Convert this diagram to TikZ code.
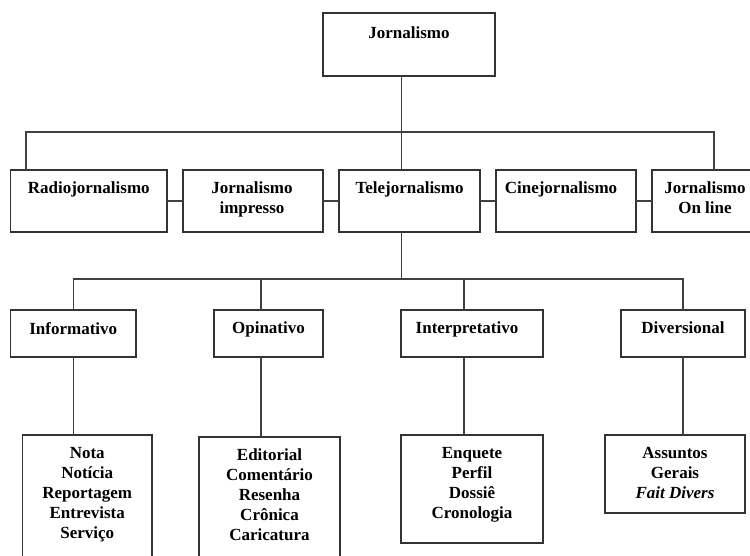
\documentclass[tikz,border=0pt]{standalone}
\usepackage{fontspec}
\setmainfont{Liberation Serif}
\begin{document}
\begin{tikzpicture}[x=1pt,y=-1pt,
  box/.style={draw=black!80,line width=1.3pt,fill=white,inner sep=0pt,outer sep=0pt},
  conn/.style={draw=black!75,line width=1.2pt},
  lbl/.style={anchor=north,align=center,inner sep=0pt,font=\bfseries\fontsize{17}{20}\selectfont}]
\useasboundingbox (0,0) rectangle (750,556);
\clip (0,0) rectangle (750,556);
% boxes
\node[box,minimum width=172pt,minimum height=63pt] (jor) at (409,44.5) {};
\node[box,minimum width=156.5pt,minimum height=62pt] (radio) at (88.75,201) {};
\node[box,minimum width=140pt,minimum height=62pt] (impr) at (253,201) {};
\node[box,minimum width=141pt,minimum height=62pt] (tele) at (409.5,201) {};
\node[box,minimum width=140pt,minimum height=62pt] (cine) at (566,201) {};
\node[box,minimum width=106pt,minimum height=62pt] (online) at (705,201) {};
\node[box,minimum width=125.5pt,minimum height=47pt] (info) at (73.25,333.5) {};
\node[box,minimum width=109pt,minimum height=47pt] (opin) at (268.5,333.5) {};
\node[box,minimum width=142pt,minimum height=47pt] (interp) at (472,333.5) {};
\node[box,minimum width=124pt,minimum height=47pt] (diver) at (683,333.5) {};
\node[box,minimum width=129.5pt,minimum height=130pt] (nota) at (87.25,500) {};
\node[box,minimum width=141pt,minimum height=128pt] (edit) at (269.5,501) {};
\node[box,minimum width=142pt,minimum height=108pt] (enq) at (472,489) {};
\node[box,minimum width=140pt,minimum height=78pt] (assun) at (675,474) {};
% labels
\node[lbl] (tjor) at ([yshift=-13.5pt]jor.north) {Jornalismo};
\node[lbl] (tradio) at ([yshift=-12pt]radio.north) {Radiojornalismo};
\node[lbl] (timpr) at ([xshift=-1pt,yshift=-12pt]impr.north) {Jornalismo\\impresso};
\node[lbl] (ttele) at ([yshift=-12pt]tele.north) {Telejornalismo};
\node[lbl] (tcine) at ([xshift=-5pt,yshift=-12pt]cine.north) {Cinejornalismo};
\node[lbl] (tonline) at ([yshift=-12pt]online.north) {Jornalismo\\On line};
\node[lbl] (tinfo) at ([yshift=-12pt]info.north) {Informativo};
\node[lbl] (topin) at ([yshift=-12pt]opin.north) {Opinativo};
\node[lbl] (tinterp) at ([xshift=-5pt,yshift=-12pt]interp.north) {Interpretativo};
\node[lbl] (tdiver) at ([yshift=-12pt]diver.north) {Diversional};
\node[lbl] (tnota) at ([yshift=-11.7pt]nota.north) {Nota\\Notícia\\Reportagem\\Entrevista\\Serviço};
\node[lbl] (tedit) at ([yshift=-12pt]edit.north) {Editorial\\Comentário\\Resenha\\Crônica\\Caricatura};
\node[lbl] (tenq) at ([yshift=-12pt]enq.north) {Enquete\\Perfil\\Dossiê\\Cronologia};
\node[lbl] (tassun) at ([yshift=-12pt]assun.north) {Assuntos\\Gerais\\\textit{Fait Divers}};
% connectors
\coordinate (h1) at (401.7,132);
\coordinate (h2) at (401.7,279);
\draw[conn] ([xshift=-7.3pt]jor.south) -- ([xshift=-7.8pt]tele.north);
\draw[conn] ([xshift=-62.75pt]radio.north) |- (h1) -| ([xshift=9pt]online.north);
\draw[conn] (radio.east) -- (impr.west);
\draw[conn] (impr.east) -- (tele.west);
\draw[conn] (tele.east) -- (cine.west);
\draw[conn] (cine.east) -- (online.west);
\draw[conn] ([xshift=-7.8pt]tele.south) -- (h2);
\draw[conn] (info.north) |- (h2) -| (diver.north);
\draw[conn] ([xshift=-7.5pt]opin.north) -- ++(0,-31);
\draw[conn] ([xshift=-8pt]interp.north) -- ++(0,-31);
\draw[conn] (info.south) -- (info.south |- nota.north);
\draw[conn] ([xshift=-7.5pt]opin.south) -- ([xshift=-8.5pt]edit.north);
\draw[conn] ([xshift=-8pt]interp.south) -- ([xshift=-8pt]enq.north);
\draw[conn] (diver.south) -- (diver.south |- assun.north);
\end{tikzpicture}
\end{document}
